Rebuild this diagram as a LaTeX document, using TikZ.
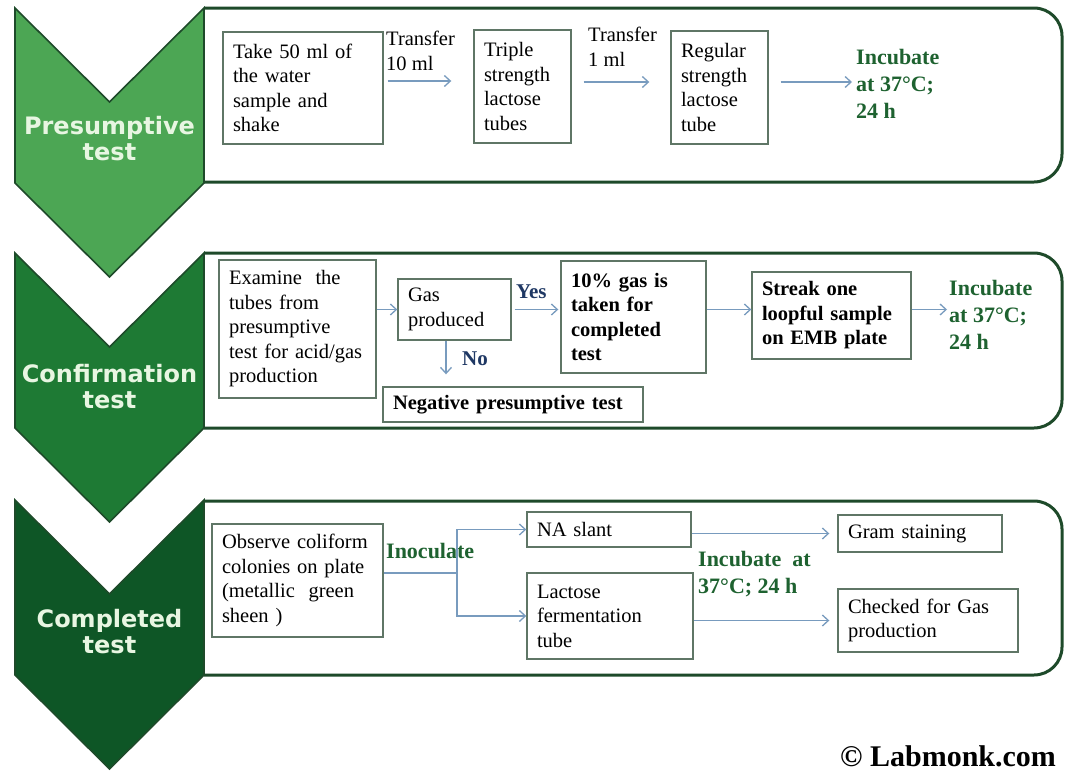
\documentclass[tikz,border=0pt]{standalone}
\usepackage{fontspec}
\setmainfont{Liberation Serif}
\newfontfamily\headfont{DejaVu Sans}
\usetikzlibrary{arrows.meta,calc,positioning}
\definecolor{chevone}{RGB}{76,166,84}
\definecolor{chevtwo}{RGB}{30,122,52}
\definecolor{chevthree}{RGB}{14,86,38}
\definecolor{panelgreen}{RGB}{30,74,42}
\definecolor{boxline}{RGB}{95,118,102}
\definecolor{arrowblue}{RGB}{120,155,190}
\definecolor{incgreen}{RGB}{30,98,48}
\definecolor{answerblue}{RGB}{31,56,100}
\definecolor{headtext}{RGB}{232,246,226}
\tikzset{
  panel/.style={draw=panelgreen, line width=3pt, rounded corners=28pt},
  chevron/.style={draw=panelgreen, line width=1.6pt, line join=miter},
  stepbox/.style={draw=boxline, line width=1.4pt, fill=white, align=left,
    inner xsep=10pt, inner ysep=0pt, font=\fontsize{20.5}{24.5}\selectfont},
  boldbox/.style={stepbox, font=\fontsize{20.5}{24.5}\selectfont\bfseries},
  flow/.style={draw=arrowblue, line width=1.3pt, -{Straight Barb[length=6pt,width=11pt]}},
  heading/.style={text=headtext, align=center, inner sep=0pt,
    font=\headfont\bfseries\fontsize{24}{26}\selectfont},
  incubate/.style={text=incgreen, align=left, inner sep=0pt, font=\fontsize{22}{27}\selectfont\bfseries},
  answer/.style={text=answerblue, inner sep=0pt, font=\fontsize{21}{25}\selectfont\bfseries},
  note/.style={align=left, inner sep=0pt, font=\fontsize{20.5}{25}\selectfont},
}
\begin{document}
\begin{tikzpicture}[x=1pt, y=-1pt]
  \useasboundingbox[fill=white] (0,0) rectangle (1068,771);

  % Drawing the three panels
  \draw[panel] (204,8) -- (1062,8) -- (1062,182) -- (204,182);
  \draw[panel] (204,253) -- (1062,253) -- (1062,428) -- (204,428);
  \draw[panel] (204,501) -- (1062,501) -- (1062,675) -- (204,675);

  % Drawing the chevrons
  \draw[chevron, fill=chevone] (15,8) -- (109.5,102) -- (204,8) -- (204,183) -- (109.5,277) -- (15,183) -- cycle;
  \draw[chevron, fill=chevtwo] (15,253) -- (109.5,347) -- (204,253) -- (204,428) -- (109.5,522) -- (15,428) -- cycle;
  \draw[chevron, fill=chevthree] (15,500) -- (109.5,594) -- (204,500) -- (204,675) -- (109.5,769) -- (15,675) -- cycle;
  \node[heading] (headone) at (109.5,139) {Presumptive\\test};
  \node[heading] (headtwo) at (109.5,386.5) {Confirmation\\test};
  \node[heading] (headthree) at (109.5,631.5) {Completed\\test};

  % Presumptive test row
  \node[stepbox, text width=140pt, minimum height=112pt] (take) at (303,88) {Take 50 ml of\\the water\\sample and\\shake};
  \node[stepbox, text width=77pt, minimum height=113pt] (triple) at (522.5,86.5) {Triple\\strength\\lactose\\tubes};
  \node[stepbox, text width=77pt, minimum height=113pt] (regular) at (719.5,87.5) {Regular\\strength\\lactose\\tube};
  \node[note, anchor=west] (lblten) at (386,50.5) {Transfer\\10 ml};
  \node[note, anchor=west] (lblone) at (588,46.5) {Transfer\\1 ml};
  \node[incubate, anchor=west] (incone) at (856,83.5) {Incubate\\at 37°C;\\24 h};
  \draw[flow, shorten <=4pt, shorten >=22pt] ([yshift=7pt]take.east) -- ([yshift=7pt]take.east -| triple.west);
  \draw[flow, shorten <=12pt, shorten >=21pt] ([yshift=4.5pt]triple.east) -- ([yshift=4.5pt]triple.east -| regular.west);
  \draw[flow, shorten <=12pt, shorten >=4pt] ([yshift=5.5pt]regular.east) -- ([yshift=5.5pt]regular.east -| incone.west);

  % Confirmation test row
  \node[stepbox, text width=137pt, minimum height=138pt] (examine) at (297.5,329) {Examine\ \ the\\tubes from\\presumptive\\test for acid/gas\\production};
  \node[stepbox, text width=93pt, minimum height=61pt] (gas) at (454.5,309.5) {Gas\\produced};
  \node[boldbox, text width=125pt, minimum height=112pt] (tengas) at (633.5,317) {10\% gas is\\taken for\\completed\\test};
  \node[boldbox, text width=139pt, minimum height=87pt] (streak) at (831.5,315.5) {Streak one\\loopful sample\\on EMB plate};
  \node[boldbox, text width=240pt, minimum height=35pt] (negative) at (513,404.5) {Negative presumptive test};
  \node[incubate, anchor=west] (inctwo) at (949,315) {Incubate\\at 37°C;\\24 h};
  \node[answer, anchor=base west] (lblyes) at (516,298) {Yes};
  \node[answer, anchor=base west] (lblno) at (462,365) {No};
  \draw[flow] (examine.east |- gas.west) -- (gas.west);
  \draw[flow, shorten <=3pt, shorten >=2pt] (gas.east) -- (gas.east -| tengas.west);
  \draw[flow] (tengas.east |- gas.east) -- (streak.west |- gas.east);
  \draw[flow, shorten >=2pt] (streak.east |- gas.east) -- (inctwo.west |- gas.east);
  \draw[flow, shorten >=12pt] ([xshift=-8.5pt]gas.south) -- ([xshift=-8.5pt]gas.south |- negative.north);

  % Completed test row
  \node[stepbox, text width=151pt, minimum height=113pt] (observe) at (297.5,580.5) {Observe coliform\\colonies on plate\\(metallic\ \ green\\sheen )};
  \node[stepbox, text width=144pt, minimum height=35pt] (naslant) at (609,529.5) {NA slant};
  \node[stepbox, text width=146pt, minimum height=86pt] (lactose) at (610,616) {Lactose\\fermentation\\tube};
  \node[stepbox, text width=144pt, minimum height=37pt] (gram) at (920,533.5) {Gram staining};
  \node[stepbox, text width=160pt, minimum height=63pt] (checked) at (928,620.5) {Checked for Gas\\production};
  \node[incubate, anchor=base west] (lblinoc) at (386,558) {Inoculate};
  \node[incubate, anchor=west] (incthree) at (698,574) {Incubate\ \ at\\37°C; 24 h};
  \coordinate (split) at (457,573);
  \draw[flow] ([yshift=7.5pt]observe.east) -- (split) |- (naslant.west);
  \draw[flow] (split) |- (lactose.west);
  \draw[flow, shorten >=8pt] (naslant.east |- gram.west) -- (gram.west);
  \draw[flow, shorten >=8pt] (lactose.east |- checked.west) -- (checked.west);

  % Marking the credit line
  \node[anchor=base west, inner sep=0pt, font=\fontsize{30}{32}\selectfont\bfseries] (credit) at (840,766) {© Labmonk.com};
\end{tikzpicture}
\end{document}
